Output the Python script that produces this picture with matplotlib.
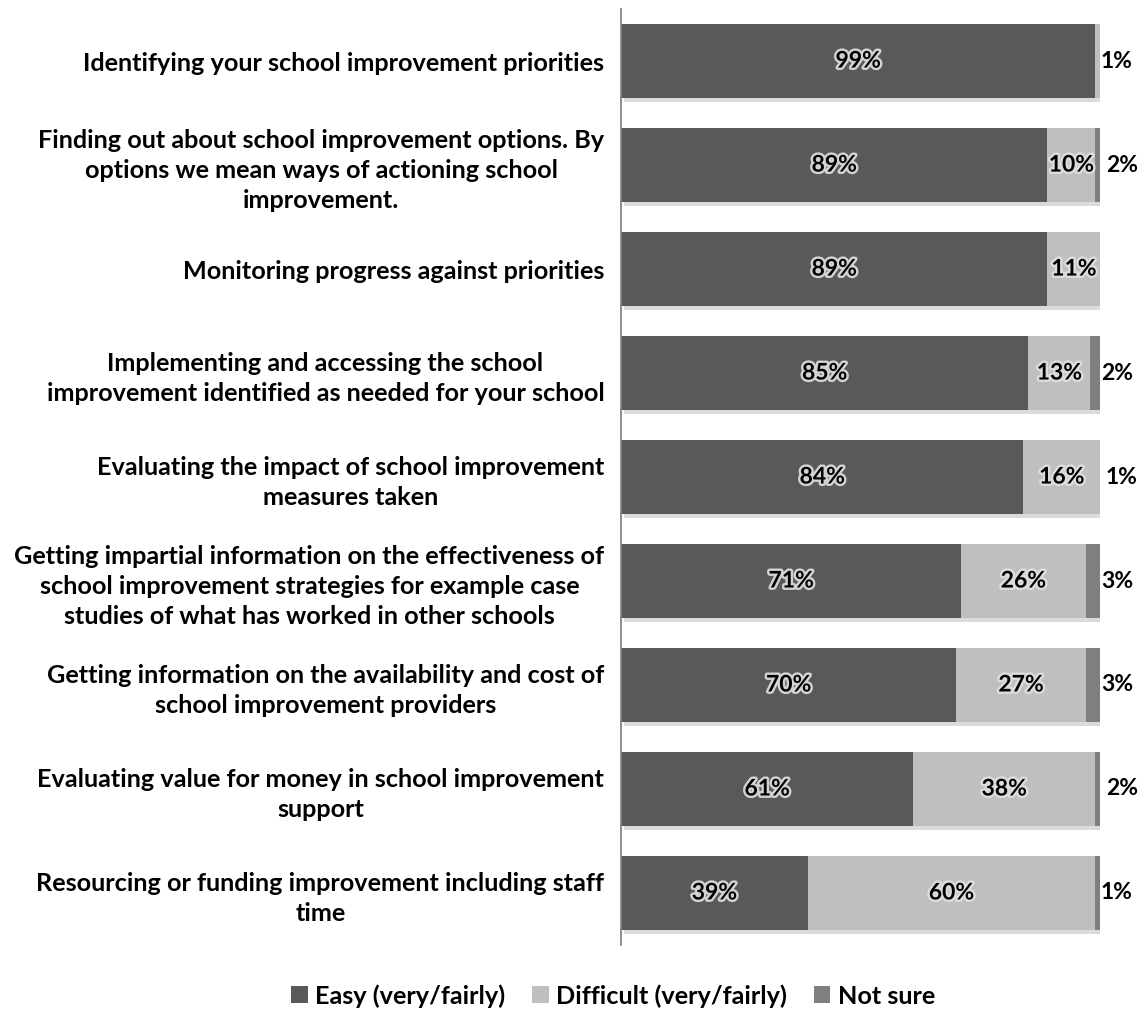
import matplotlib.pyplot as plt
import matplotlib.patheffects as pe
from matplotlib.patches import Patch
import numpy as np

plt.rcParams['font.family'] = ['Lato', 'DejaVu Sans']
plt.rcParams['font.weight'] = 'bold'

categories = [
    "Identifying your school improvement priorities",
    "Finding out about school improvement options. By\noptions we mean ways of actioning school\nimprovement.",
    "Monitoring progress against priorities",
    "Implementing and accessing the school\nimprovement identified as needed for your school",
    "Evaluating the impact of school improvement\nmeasures taken",
    "Getting impartial information on the effectiveness of\nschool improvement strategies for example case\nstudies of what has worked in other schools",
    "Getting information on the availability and cost of\nschool improvement providers",
    "Evaluating value for money in school improvement\nsupport",
    "Resourcing or funding improvement including staff\ntime",
]
easy = [99, 89, 89, 85, 84, 71, 70, 61, 39]
difficult = [1, 10, 11, 13, 16, 26, 27, 38, 60]
not_sure = [0, 2, 0, 2, 1, 3, 3, 2, 1]
series_names = ["Easy (very/fairly)", "Difficult (very/fairly)", "Not sure"]
colors = ["#595959", "#bfbfbf", "#7f7f7f"]

fs_cat = 18.2
fs_val = 16.5
fig = plt.figure(figsize=(11.46, 10.10), dpi=100)
ax = fig.add_axes([0.5419, 0.0644, 0.418, 0.9266])

y = np.arange(len(categories))
shadow = [pe.SimplePatchShadow(offset=(2, -3), shadow_rgbFace='#999999', alpha=0.35), pe.Normal()]
glow = [pe.withStroke(linewidth=3.5, foreground='#e0e0e0', alpha=0.9)]

left = np.zeros(len(categories))
for vals, name, col in zip([easy, difficult, not_sure], series_names, colors):
    vals = np.array(vals, dtype=float)
    bars = ax.barh(y, vals, left=left, height=0.71, color=col, label=name)
    for b in bars:
        b.set_path_effects(shadow)
    left = left + vals

# percentage labels: inside for larger segments, past the bar end for small ones
totals = left
for i in range(len(categories)):
    start = 0
    for vals in [easy, difficult, not_sure]:
        v = vals[i]
        if v > 0:
            if v >= 5:
                ax.text(start + v / 2, i, f"{v}%", ha='center', va='center',
                        fontsize=fs_val, color='black', path_effects=glow)
            else:
                ax.text(totals[i] + 0.2, i, f"{v}%", ha='left', va='center',
                        fontsize=fs_val, color='black', clip_on=False)
        start += v

ax.set_xlim(0, 100)
ax.set_ylim(len(categories) - 0.5, -0.5)
ax.set_yticks(y)
ax.set_yticklabels(categories, fontsize=fs_cat, linespacing=1.38)
for lab in ax.get_yticklabels():
    lab.set_multialignment('center')
ax.tick_params(axis='y', length=0, pad=12)
ax.set_xticks([])
for s in ['top', 'right', 'bottom']:
    ax.spines[s].set_visible(False)
ax.spines['left'].set_color('#868686')
ax.spines['left'].set_linewidth(1.3)

handles = [Patch(facecolor=c, edgecolor='none') for c in colors]
fig.legend(handles, series_names, loc='center', bbox_to_anchor=(0.535, 0.014),
           ncol=3, frameon=False, fontsize=fs_cat, handlelength=0.65, handleheight=0.65,
           handletextpad=0.3, columnspacing=1.05, borderpad=0)

fig.savefig("out.png", dpi=100, facecolor='white')
